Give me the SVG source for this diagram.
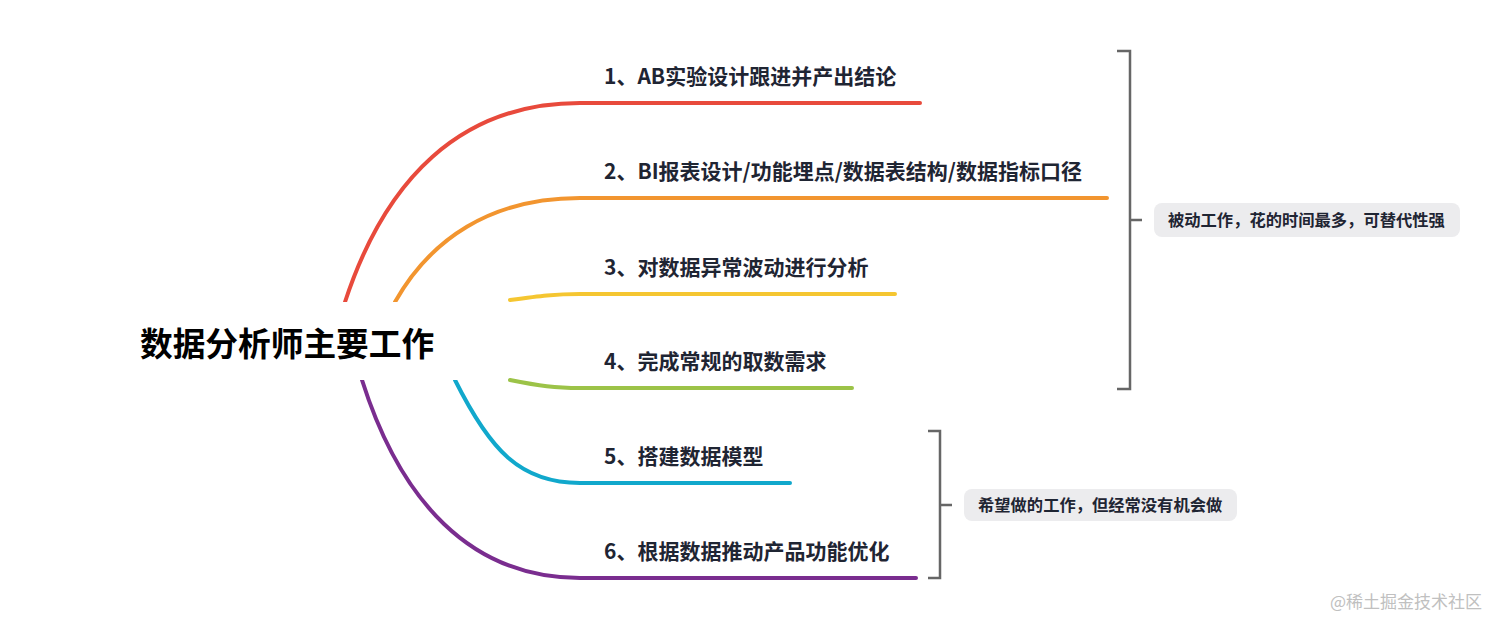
<svg xmlns="http://www.w3.org/2000/svg" width="1512" height="631" viewBox="0 0 1512 631">
<style>
.t{font-family:"Noto Sans CJK SC","Liberation Sans",sans-serif;font-weight:bold;font-size:21px;fill:#1f2533}
.c{fill:none;stroke-width:4;stroke-linecap:round}
.b{fill:none;stroke:#666;stroke-width:2.5}
.n{font-family:"Noto Sans CJK SC","Liberation Sans",sans-serif;font-weight:bold;font-size:16.3px;fill:#1f2533}
</style>
<rect width="1512" height="631" fill="#fff"/>
<g id="connectors">
<path class="c" stroke="#e84a3c" stroke-width="5" d="M345,302 C385,180 460,103 580,103 H920"/>
<path class="c" stroke="#f2952f" stroke-width="5" d="M395,302 C430,240 490,198 580,198 H1107"/>
<path class="c" stroke="#f5c631" d="M510,300 C540,296 555,294 580,294 H895"/>
<path class="c" stroke="#9cc348" d="M510,380 C540,386 555,388 580,388 H852"/>
<path class="c" stroke="#11a8cc" stroke-width="5" d="M455,380 C490,450 520,483 580,483 H790"/>
<path class="c" stroke="#7a2d8f" stroke-width="5" d="M362,380 C400,500 470,578 580,578 H916"/>
<path class="b" d="M1117,51 H1130 V389 H1117 M1130,220 H1142"/>
<path class="b" d="M928,431 H940 V578 H928 M940,505 H952"/>
</g>
<g id="root"><rect x="55" y="302" width="450" height="78" fill="#fff"/><text x="140" y="356" font-family="Noto Sans CJK SC,sans-serif" font-weight="bold" font-size="32.7" fill="#000">数据分析师主要工作</text></g>
<g id="n1"><text class="t" x="604" y="84">1、AB实验设计跟进并产出结论</text></g>
<g id="n2"><text class="t" x="604" y="179">2、BI报表设计/功能埋点/数据表结构/数据指标口径</text></g>
<g id="n3"><text class="t" x="604" y="275">3、对数据异常波动进行分析</text></g>
<g id="n4"><text class="t" x="604" y="369">4、完成常规的取数需求</text></g>
<g id="n5"><text class="t" x="604" y="464">5、搭建数据模型</text></g>
<g id="n6"><text class="t" x="604" y="559">6、根据数据推动产品功能优化</text></g>
<g id="s1"><rect x="1154" y="203" width="306" height="34" rx="8" fill="#ececee"/><text class="n" x="1168" y="226">被动工作，花的时间最多，可替代性强</text></g>
<g id="s2"><rect x="964" y="489" width="273" height="32" rx="8" fill="#ececee"/><text class="n" x="978" y="511">希望做的工作，但经常没有机会做</text></g>
<text x="1330" y="608" font-family="Noto Sans CJK SC,sans-serif" font-size="17" fill="#c0c0c0">@稀土掘金技术社区</text>
</svg>
